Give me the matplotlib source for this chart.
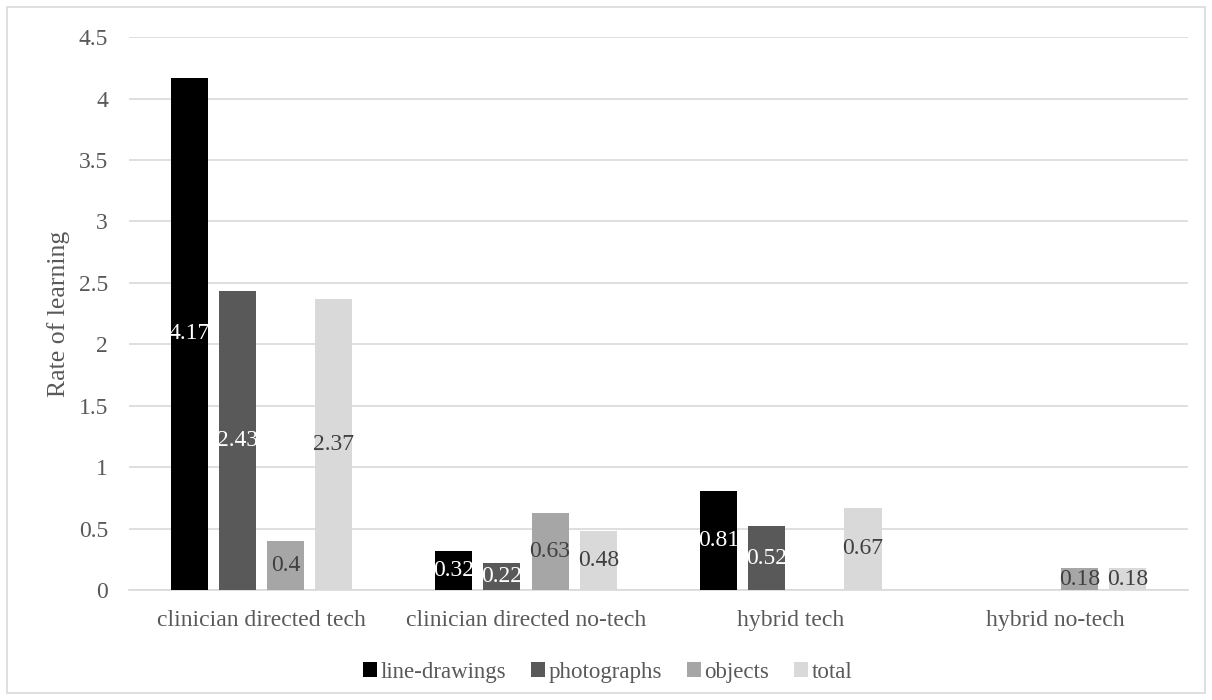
import numpy as np
import matplotlib
matplotlib.use("Agg")
import matplotlib.pyplot as plt
from matplotlib.patches import Rectangle

categories = ["clinician directed tech", "clinician directed no-tech",
              "hybrid tech", "hybrid no-tech"]
series = ["line-drawings", "photographs", "objects", "total"]
line_drawings = [4.17, 0.32, 0.81, np.nan]
photographs = [2.43, 0.22, 0.52, np.nan]
objects = [0.4, 0.63, np.nan, 0.18]
total = [2.37, 0.48, 0.67, 0.18]

values = [line_drawings, photographs, objects, total]
colors = ["#000000", "#595959", "#a6a6a6", "#d9d9d9"]
label_colors = ["white", "white", "#404040", "#404040"]

plt.rcParams["font.family"] = ["Liberation Serif", "DejaVu Serif"]

fig = plt.figure(figsize=(12.12, 7), dpi=100)
ax = fig.add_axes([0.1064, 0.157, 0.8736, 0.79])

# light frame around the whole chart area
fig.patches.append(Rectangle((0.006, 0.01), 0.988, 0.98, transform=fig.transFigure,
                             fill=False, edgecolor="#d9d9d9", linewidth=1.2))

x = np.arange(len(categories))
width = 0.14
step = 0.182
for i, (name, vals) in enumerate(zip(series, values)):
    pos = x + (i - 1.5) * step
    bars = ax.bar(pos, vals, width=width, color=colors[i], label=name, zorder=3)
    for b, v in zip(bars, vals):
        if np.isnan(v):
            continue
        ax.text(b.get_x() + b.get_width() / 2, v / 2, "{:g}".format(v),
                ha="center", va="center", fontsize=17,
                color=label_colors[i], zorder=4)

ax.set_xlim(-0.5, 3.5)
ax.set_ylim(0, 4.5)
ax.set_yticks(np.arange(0, 4.51, 0.5))
ax.set_yticklabels(["0", "0.5", "1", "1.5", "2", "2.5", "3", "3.5", "4", "4.5"])
ax.set_xticks(x)
ax.set_xticklabels(categories)
ax.tick_params(axis="both", length=0, labelsize=17, colors="#595959")
ax.tick_params(axis="y", pad=15)
ax.tick_params(axis="x", pad=14)
ax.grid(axis="y", color="#d9d9d9", linewidth=1.2, zorder=0)
for s in ["top", "right", "left"]:
    ax.spines[s].set_visible(False)
ax.spines["bottom"].set_color("#d9d9d9")
ax.spines["bottom"].set_linewidth(1.2)
ax.set_ylabel("Rate of learning", fontsize=18.5, color="#595959", labelpad=6)

ax.legend(loc="upper center", bbox_to_anchor=(0.452, -0.092), ncol=4, frameon=False,
          fontsize=16.5, handlelength=0.6, handleheight=0.6, handletextpad=0.15,
          columnspacing=1.1, labelcolor="#595959")

fig.savefig("out.png", dpi=100)
